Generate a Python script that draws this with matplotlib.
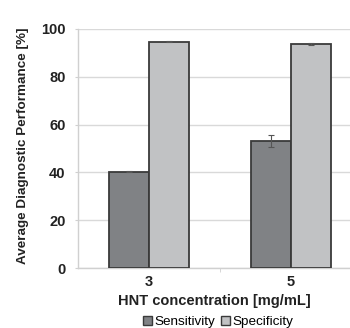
import matplotlib
matplotlib.use("Agg")
import matplotlib.pyplot as plt
import numpy as np

plt.rcParams['font.family'] = ['Liberation Sans', 'DejaVu Sans']

categories = ["3", "5"]
series_names = ["Sensitivity", "Specificity"]
sensitivity = [40.3, 53.1]
sensitivity_err = [0.3, 2.6]
specificity = [94.7, 93.8]
specificity_err = [0.3, 0.3]

colors = ["#808285", "#c1c2c4"]
edge = "#3a3a3a"

fig = plt.figure(figsize=(3.5, 3.28), dpi=100)
ax = fig.add_axes([78/350, 1-268/328, (350-78)/350, (268-29)/328])

x = np.arange(len(categories))
w = 0.285
ax.bar(x - w/2, sensitivity, w, color=colors[0], edgecolor=edge, linewidth=1.3,
       yerr=sensitivity_err, error_kw=dict(ecolor="#555555", elinewidth=0.8, capsize=2.5, capthick=0.8),
       label=series_names[0], zorder=3)
ax.bar(x + w/2, specificity, w, color=colors[1], edgecolor=edge, linewidth=1.3,
       yerr=specificity_err, error_kw=dict(ecolor="#555555", elinewidth=0.8, capsize=2.5, capthick=0.8),
       label=series_names[1], zorder=3)

ax.set_xlim(-0.5, 1.5 - 12/142)
ax.set_ylim(0, 100)
ax.set_yticks([0, 20, 40, 60, 80, 100])
ax.yaxis.grid(True, color="#d9d9d9", linewidth=1.0, zorder=0)
ax.set_axisbelow(True)
for s in ["top", "right"]:
    ax.spines[s].set_visible(False)
ax.spines["left"].set_color("#d0d0d0")
ax.spines["bottom"].set_color("#d0d0d0")
ax.spines["left"].set_linewidth(1.0)
ax.spines["bottom"].set_linewidth(1.0)

ax.set_xticks(x)
ax.set_xticklabels(categories, fontsize=10.5, fontweight="bold", color="#222222")
ax.set_xticks([0.5], minor=True)
ax.tick_params(axis="x", which="major", length=0, pad=5)
ax.tick_params(axis="x", which="minor", length=3, color="#d0d0d0")
ax.tick_params(axis="y", length=2.5, color="#d0d0d0", pad=6.5, labelsize=10.5)
for t in ax.get_yticklabels():
    t.set_fontweight("bold")
    t.set_color("#222222")

ax.set_xlabel("HNT concentration [mg/mL]", fontsize=10.5, fontweight="bold", color="#222222", labelpad=3.5)
fig.text(23/350, 1-146/328, "Average Diagnostic Performance [%]", rotation=90,
         ha="center", va="center", fontsize=9.7, fontweight="bold", color="#222222")

leg = fig.legend(loc="center", bbox_to_anchor=(218/350, 1-322/328), ncol=2, frameon=False,
                 fontsize=9.7, handlelength=0.7, handleheight=0.7, handletextpad=0.15,
                 columnspacing=0.4, borderpad=0)
for h in leg.legend_handles:
    h.set_edgecolor(edge)
    h.set_linewidth(1.0)

fig.savefig("out.png", dpi=100)
